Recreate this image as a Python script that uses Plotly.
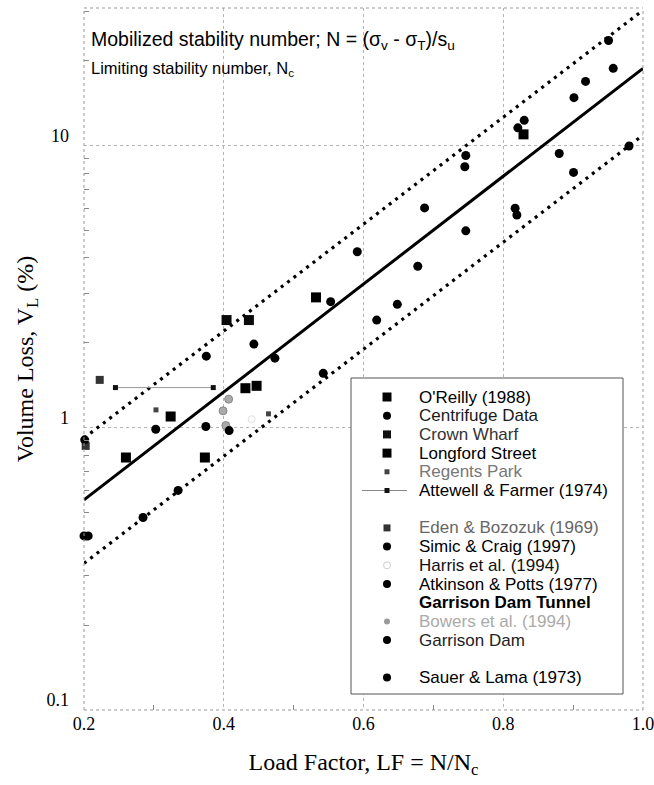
import plotly.graph_objects as go

# ---------------- data ----------------
oreilly_x = [0.260, 0.324, 0.373]
oreilly_y = [0.785, 1.097, 0.785]
crown_x = [0.404, 0.436]
crown_y = [2.41, 2.41]
longford_x = [0.431, 0.447, 0.532, 0.829]
longford_y = [1.382, 1.409, 2.90, 10.97]
regents_x = [0.303, 0.464]
regents_y = [1.158, 1.121]
attewell_x = [0.245, 0.385]
attewell_y = [1.389, 1.389]
eden_x = [0.2225, 0.2024]
eden_y = [1.479, 0.863]
bowers_x = [0.407, 0.399, 0.403]
bowers_y = [1.264, 1.149, 1.019]
harris_x = [0.440]
harris_y = [1.073]
sauer_x = [0.201, 0.200, 0.206]
sauer_y = [0.907, 0.414, 0.414]
atkinson_x = [0.2845, 0.3347, 0.3027, 0.3744]
atkinson_y = [0.481, 0.600, 0.989, 1.011]
garrison_x = [0.4077]
garrison_y = [0.978]
simic_x = [0.375, 0.4431, 0.4732, 0.5424]
simic_y = [1.795, 1.981, 1.766, 1.56]
centrifuge_x = [0.553, 0.5911, 0.6189, 0.6484, 0.6777, 0.6874, 0.7464, 0.745, 0.7464,
                0.8209, 0.830, 0.817, 0.8195, 0.8801, 0.9006, 0.9012, 0.9178, 0.9507,
                0.9574, 0.980]
centrifuge_y = [2.80, 4.21, 2.41, 2.74, 3.74, 6.02, 9.23, 8.42, 4.99,
                11.57, 12.3, 6.0, 5.68, 9.38, 8.04, 14.8, 16.9, 23.6,
                18.8, 9.97]

fit_x = [0.2, 1.0]
fit_mean = [0.556, 18.8]
fit_upper = [0.92, 30.2]
fit_lower = [0.331, 10.9]

x_ticks = [0.2, 0.4, 0.6, 0.8, 1.0]
x_ticklabels = ["0.2", "0.4", "0.6", "0.8", "1.0"]
x_minor_ticks = [0.3, 0.5, 0.7, 0.9]

legend_labels = ["O'Reilly (1988)", "Centrifuge Data", "Crown Wharf", "Longford Street",
                 "Regents Park", "Attewell & Farmer (1974)", "Eden & Bozozuk (1969)",
                 "Simic & Craig (1997)", "Harris et al. (1994)", "Atkinson & Potts (1977)",
                 "<b>Garrison Dam Tunnel</b>", "Bowers et al. (1994)", "Garrison Dam",
                 "Sauer & Lama (1973)"]
legend_rows = [0, 1, 2, 3, 4, 5, 7, 8, 9, 10, 11, 12, 13, 15]
legend_text_colors = ["#000", "#1a1a1a", "#333", "#000", "#777", "#000", "#666",
                      "#000", "#111", "#000", "#000", "#aaa", "#222", "#000"]

# ---------------- layout geometry (pixels) ----------------
W, H = 654, 785
L, R, T, B = 84, 643, 8, 710
SANS = "Liberation Sans, Arial, sans-serif"
SERIF = "Liberation Serif, Times New Roman, serif"

fig = go.Figure()

# fit lines
fig.add_trace(go.Scatter(x=fit_x, y=fit_mean, mode="lines",
                         line=dict(color="black", width=3), showlegend=False))
for yy in (fit_upper, fit_lower):
    fig.add_trace(go.Scatter(x=fit_x, y=yy, mode="lines",
                             line=dict(color="black", width=3.2, dash="3px,5px"),
                             showlegend=False))

def pts(x, y, symbol, size, color, line_color=None, line_width=0, mode="markers", lc=None):
    fig.add_trace(go.Scatter(
        x=x, y=y, mode=mode, cliponaxis=False, showlegend=False,
        line=dict(color=lc or "#888", width=1),
        marker=dict(symbol=symbol, size=size, color=color,
                    line=dict(color=line_color or color, width=line_width))))

pts(attewell_x, attewell_y, "square", 5, "#111", mode="lines+markers", lc="#999")
pts(oreilly_x, oreilly_y, "square", 10, "black")
pts(crown_x, crown_y, "square", 10, "#0a0a0a")
pts(longford_x, longford_y, "square", 10, "black")
pts(regents_x, regents_y, "square", 5, "#444")
pts(eden_x, eden_y, "square", 8, "#333")
pts(bowers_x, bowers_y, "circle", 8, "#aaa", line_color="#888", line_width=1)
pts(harris_x, harris_y, "circle-open", 7, "#ddd", line_width=1)
pts(sauer_x, sauer_y, "circle", 9, "black")
pts(atkinson_x, atkinson_y, "circle", 9, "black")
pts(garrison_x, garrison_y, "circle", 9, "black")
pts(simic_x, simic_y, "circle", 9, "black")
pts(centrifuge_x, centrifuge_y, "circle", 9, "black")

# ---------------- hand-built legend on a pixel overlay axis ----------------
BOX_X0, BOX_X1, BOX_Y0, BOX_Y1 = 351, 623, 378, 694
fig.add_trace(go.Scatter(x=[BOX_X0, BOX_X1, BOX_X1, BOX_X0, BOX_X0],
                         y=[BOX_Y0, BOX_Y0, BOX_Y1, BOX_Y1, BOX_Y0],
                         mode="lines", fill="toself", fillcolor="white",
                         line=dict(color="#555", width=1),
                         xaxis="x2", yaxis="y2", showlegend=False, hoverinfo="skip"))

ROW0, STEP = 397, 18.7
SYM_X, TXT_X = 387, 417
leg_sym = ["square", "circle", "square", "square", "square", "square", "square",
           "circle", "circle-open", "circle", None, "circle", "circle", "circle"]
leg_size = [9, 8, 8, 9, 5, 5, 7, 8, 7, 8, 0, 6, 8, 8]
leg_color = ["black", "black", "#111", "black", "#444", "#111", "#333",
             "black", "#ccc", "black", "black", "#999", "black", "black"]

row_y = [ROW0 + STEP * r for r in legend_rows]
for i, lab in enumerate(legend_labels):
    if leg_sym[i] is not None:
        if i == 5:
            fig.add_trace(go.Scatter(x=[SYM_X - 25, SYM_X + 20], y=[row_y[i], row_y[i]],
                                     mode="lines", line=dict(color="#888", width=1),
                                     xaxis="x2", yaxis="y2", showlegend=False))
        fig.add_trace(go.Scatter(x=[SYM_X], y=[row_y[i]], mode="markers",
                                 marker=dict(symbol=leg_sym[i], size=leg_size[i], color=leg_color[i],
                                             line=dict(color=leg_color[i],
                                                       width=1 if leg_sym[i] == "circle-open" else 0)),
                                 xaxis="x2", yaxis="y2", showlegend=False, cliponaxis=False))
    fig.add_annotation(x=TXT_X, y=row_y[i], xref="x2", yref="y2", text=lab,
                       xanchor="left", yanchor="middle", showarrow=False,
                       font=dict(family=SANS, size=17, color=legend_text_colors[i]))

# plot frame (dotted)
for (x0, y0, x1, y1) in [(0, 1, 1, 1), (0, 0, 1, 0), (0, 0, 0, 1), (1, 0, 1, 1)]:
    fig.add_shape(type="line", xref="paper", yref="paper", x0=x0, y0=y0, x1=x1, y1=y1,
                  line=dict(color="#999", width=1, dash="dot"), layer="above")

# top-left explanatory text
fig.add_annotation(x=89, y=40, xref="x2", yref="y2", xanchor="left", yanchor="middle",
                   showarrow=False, font=dict(family=SANS, size=19.5, color="black"),
                   text="Mobilized stability number; N = (σ<sub>v</sub> - σ<sub>T</sub>)/s<sub>u</sub>")
fig.add_annotation(x=89, y=69, xref="x2", yref="y2", xanchor="left", yanchor="middle",
                   showarrow=False, font=dict(family=SANS, size=16.5, color="black"),
                   text="Limiting stability number, N<sub>c</sub>")

fig.update_layout(
    width=W, height=H, autosize=False,
    margin=dict(l=L, r=W - R, t=T, b=H - B, pad=0, autoexpand=False),
    paper_bgcolor="white", plot_bgcolor="white",
    showlegend=False,
    xaxis=dict(range=[0.2, 1.0], tickvals=x_ticks, ticktext=x_ticklabels,
               showgrid=True, gridcolor="#b5b5b5", griddash="dot", gridwidth=1,
               showline=False, zeroline=False, ticks="", mirror="ticks", automargin=False,
               minor=dict(tickvals=x_minor_ticks, ticks="inside", ticklen=5,
                          tickcolor="#888", showgrid=False),
               ticklabelstandoff=1, ticklabeloverflow="allow",
               tickfont=dict(family=SERIF, size=18, color="black"),
               title=dict(text="Load Factor, LF = N/N<sub>c</sub>", standoff=20,
                          font=dict(family=SERIF, size=24, color="black"))),
    yaxis=dict(type="log", range=[-1, 1.488], tickmode="linear", tick0=0, dtick=1,
               showgrid=True, gridcolor="#b5b5b5", griddash="dot", gridwidth=1,
               showline=False, zeroline=False, ticks="", mirror="ticks", automargin=False,
               minor=dict(dtick="D1", ticks="inside", ticklen=5, tickcolor="#888", showgrid=False),
               ticklabelstandoff=14, ticklabelshift=-10, ticklabeloverflow="allow",
               tickfont=dict(family=SERIF, size=18, color="black"),
               title=dict(text="Volume Loss, V<sub>L</sub> (%)", standoff=6,
                          font=dict(family=SERIF, size=24, color="black"))),
    xaxis2=dict(range=[L, R], overlaying="x", visible=False, anchor="y2"),
    yaxis2=dict(range=[B, T], overlaying="y", visible=False, anchor="x2"),
)

fig.write_html("out.html")
